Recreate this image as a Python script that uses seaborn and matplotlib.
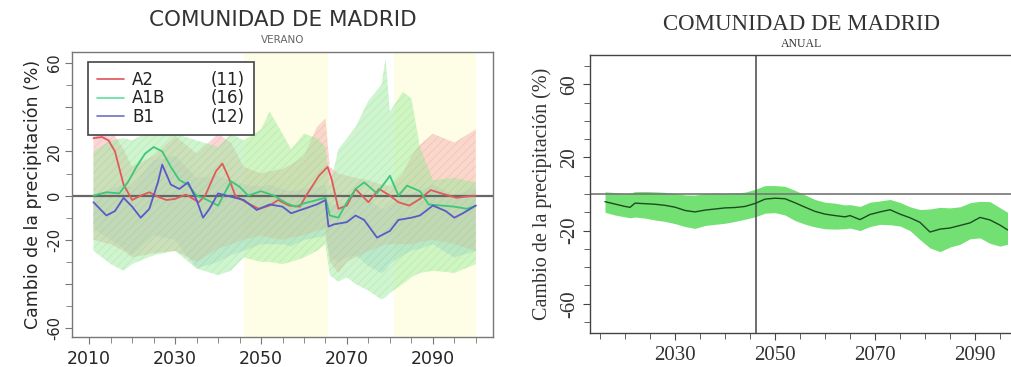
import numpy as np
import pandas as pd
import matplotlib
matplotlib.use("Agg")
import matplotlib.pyplot as plt
import seaborn as sns

sns.set_style("ticks")
plt.rcParams['font.family'] = ['DejaVu Sans']
plt.rcParams['hatch.linewidth'] = 0.6
plt.rcParams['axes.unicode_minus'] = False

# ---- left panel: summer (VERANO) ----
scenarios = ["A2", "A1B", "B1"]
n_models = [11, 16, 12]
colors = {"A2": "#e05a5a", "A1B": "#3cc878", "B1": "#5a5ac8"}
legend_colors = {"A2": "#e0505a", "A1B": "#5ee0a0", "B1": "#7070c8"}
band_colors = {"A2": "#f4a8a8", "A1B": "#98e898", "B1": "#b0cdf0"}

a2_years = [2011, 2013, 2014.5, 2016, 2018, 2020, 2022, 2024, 2026, 2028, 2030,
            2032.5, 2035.5, 2037, 2039.5, 2041, 2042.5, 2044, 2046.5, 2049.5,
            2052, 2054, 2056.5, 2059, 2061, 2063.5, 2065.5, 2066.5, 2068, 2070,
            2072, 2073.5, 2075, 2077.5, 2080, 2082, 2084.5, 2087, 2089.5, 2092,
            2095.5, 2097.5, 2100]
a2_vals = [26, 26.5, 25, 20, 5, -2, 0, 1.5, -0.5, -2, -1.5,
           0.5, -3, 0, 11, 14.5, 8, 0, -3, -6,
           -4.5, -2, -4.5, -5, 1.5, 9, 13, 7, -6, -4.5,
           3, 0, -3, 3, 0, -3, -4.5, -1.5, 2.5, 1,
           -1, -0.5, 0]

a1b_years = [2011, 2014, 2017, 2019, 2021, 2023, 2025, 2027, 2029, 2031, 2033,
             2035, 2037, 2040, 2043, 2045, 2047, 2050, 2053, 2056, 2058, 2060,
             2063, 2065, 2066, 2068, 2070, 2072, 2074, 2077, 2080, 2082, 2084,
             2087, 2089, 2092, 2095, 2098, 2100]
a1b_vals = [0, 1.5, 1, 6, 13, 19, 22, 20, 13, 7, 5,
            0, -1.5, -4.5, 6.5, 4, 0, 2, 0, -3.5, -5, -3.5,
            -2, -1, -9, -10, -3, 3, 6, 1, 9, 0, 4.5,
            2, -4, -4.5, -5, -6, -4.5]

b1_years = [2011, 2014, 2016, 2018, 2020, 2022, 2024, 2026, 2027, 2029, 2031,
            2033, 2035, 2036.5, 2038, 2040, 2042, 2044, 2046, 2049, 2052, 2055,
            2057, 2060, 2063, 2065, 2065.7, 2067, 2070, 2072, 2074, 2077, 2080,
            2082, 2085, 2087, 2090, 2093, 2095, 2097, 2100]
b1_vals = [-3, -9, -7, -1, -5, -10, -6, 6, 14, 5, 3,
           6, -2, -10, -6, 1, 0, -1, -2, -6.5, -4, -5,
           -8, -6, -4, -2, -14, -13, -12, -9, -11, -19, -16,
           -11, -10, -9, -4.5, -7, -10, -8, -4.5]

band_years = [2011, 2015, 2018, 2020, 2025, 2030, 2035, 2040, 2043, 2046, 2050,
              2052, 2055, 2057, 2060, 2063, 2065, 2066, 2068, 2070, 2072, 2075,
              2078, 2079, 2080, 2083, 2085, 2087, 2090, 2095, 2100]
a1b_hi = [20, 25, 26, 25, 30, 28, 25, 22, 28, 25, 30,
          38, 28, 21, 28, 26, 22, 4, 21, 26, 31, 43,
          50, 62, 38, 47, 44, 22, 7, 8, 6]
a1b_lo = [-25, -31, -34, -31, -27, -25, -33, -36, -34, -28, -30,
          -30, -31, -30, -28, -25, -22, -36, -39, -37, -40, -43,
          -47, -46, -44, -40, -37, -35, -34, -35, -31]
a2_hi = [28, 30, 21, 13, 18, 27, 19, 28, 24, 13, 10,
         11, 12, 14, 18, 31, 35, 13, 10, 9, 8, 7,
         5, 5, 4, 10, 18, 23, 28, 24, 30]
a2_lo = [-20, -22, -25, -28, -26, -25, -30, -24, -22, -20, -18,
         -19, -20, -19, -18, -16, -15, -30, -35, -30, -28, -25,
         -23, -22, -22, -22, -22, -21, -20, -22, -25]
b1_hi = [0, 3, 5, 4, 16, 18, 8, 9, 7, 5, 4,
         5, 3, 2, 3, 4, 5, -4, -4, -3, 0, -2,
         -6, -6, -4, 0, 1, 2, 5, 0, 4]
b1_lo = [-15, -20, -24, -27, -18, -20, -33, -30, -27, -25, -22,
         -22, -22, -23, -20, -19, -18, -28, -30, -28, -27, -32,
         -35, -34, -31, -27, -25, -24, -22, -28, -25]

period_start = [2046, 2081]
period_end = [2065.5, 2100]

# ---- right panel: annual (ANUAL) ----
ann_years = [2016, 2018, 2020, 2021, 2022, 2024, 2026, 2028, 2030, 2032, 2034,
             2036, 2038, 2040, 2042, 2044, 2046, 2048, 2050, 2052, 2054, 2056,
             2058, 2060, 2062, 2064, 2065, 2067, 2069, 2071, 2073, 2075, 2077,
             2079, 2081, 2083, 2085, 2087, 2089, 2091, 2093, 2095, 2096.5]
ann_mean = [-4.2, -5.5, -6.8, -7.3, -5.0, -5.3, -5.6, -6.2, -7.2, -9.0, -9.8,
            -8.8, -8.2, -7.6, -7.4, -6.8, -5.2, -2.8, -2.3, -2.6, -4.8, -7.2,
            -9.5, -11.0, -11.8, -12.5, -11.8, -14.0, -11.2, -9.8, -8.6, -11.0, -13.0,
            -15.5, -20.8, -19.2, -18.6, -17.2, -15.8, -12.8, -14.2, -17.0, -19.6]
ann_hi = [1.2, 0.8, 0.3, 0.5, 1.3, 1.4, 1.2, 0.9, 0.2, -0.5, -0.6,
          0.2, 0.5, 0.3, 0.6, 1.0, 2.5, 4.6, 4.6, 4.2, 2.0, -0.5,
          -3.0, -4.5, -5.0, -6.0, -5.8, -6.8, -4.5, -3.8, -3.0, -4.6, -7.0,
          -8.5, -8.2, -7.3, -7.6, -7.0, -4.8, -4.0, -4.2, -7.5, -10.0]
ann_lo = [-10.0, -11.5, -12.5, -13.0, -12.6, -13.2, -14.2, -15.0, -16.2, -17.8, -18.8,
          -17.2, -16.6, -16.0, -15.0, -13.8, -12.5, -10.5, -10.2, -11.5, -14.5, -16.5,
          -18.0, -19.0, -19.2, -19.0, -18.6, -20.0, -17.8, -16.6, -16.8, -17.5, -20.0,
          -25.0, -29.5, -31.5, -29.0, -27.5, -24.5, -24.0, -27.0, -28.5, -27.5]
ref_year = 2046.2

lines = pd.concat([
    pd.DataFrame({"year": a2_years, "cambio": a2_vals, "escenario": "A2"}),
    pd.DataFrame({"year": a1b_years, "cambio": a1b_vals, "escenario": "A1B"}),
    pd.DataFrame({"year": b1_years, "cambio": b1_vals, "escenario": "B1"}),
])
bands = pd.DataFrame({"year": band_years,
                      "A2_hi": a2_hi, "A2_lo": a2_lo,
                      "A1B_hi": a1b_hi, "A1B_lo": a1b_lo,
                      "B1_hi": b1_hi, "B1_lo": b1_lo})
anual = pd.DataFrame({"year": ann_years, "media": ann_mean,
                      "hi": ann_hi, "lo": ann_lo})

fig = plt.figure(figsize=(10.11, 3.67), dpi=100)
ax1 = fig.add_axes([72 / 1011, 30 / 367, 421 / 1011, 285 / 367])
ax2 = fig.add_axes([590 / 1011, 34 / 367, 423 / 1011, 278 / 367])

# left panel
for s, e in zip(period_start, period_end):
    ax1.axvspan(s, e, color="#fefee6", zorder=0, lw=0)
for sc in ["B1", "A2", "A1B"]:
    ax1.fill_between(bands["year"], bands[sc + "_lo"], bands[sc + "_hi"],
                     facecolor=band_colors[sc], alpha=0.45, hatch="////",
                     edgecolor=band_colors[sc], linewidth=0, zorder=1)
ax1.axhline(0, color="#666666", lw=1.6, zorder=2)
sns.lineplot(data=lines, x="year", y="cambio", hue="escenario",
             palette=colors, hue_order=scenarios, sort=False,
             lw=1.3, ax=ax1, legend=False, zorder=3)

ax1.set_xlim(2006, 2104)
ax1.set_ylim(-64, 65)
ax1.set_xticks([2010, 2030, 2050, 2070, 2090])
ax1.set_xticks(np.arange(2015, 2101, 5), minor=True)
ax1.set_yticks([-60, -40, -20, 0, 20, 40, 60])
ax1.set_yticklabels(["-60", "", "-20", "0", "20", "", "60"])
ax1.set_yticks(np.arange(-60, 61, 10), minor=True)
ax1.tick_params(axis="x", labelsize=12.5, length=5, color="#777777", pad=4)
ax1.tick_params(axis="y", labelsize=10.5, length=5, color="#777777",
                labelrotation=90, pad=2)
ax1.tick_params(which="minor", length=4, color="#777777")
for lab in ax1.get_yticklabels():
    lab.set_va("center")
ax1.set_xlabel("")
ax1.set_ylabel("Cambio de la precipitación (%)", fontsize=12.5, labelpad=4)
for sp in ax1.spines.values():
    sp.set_color("#777777")
    sp.set_linewidth(1)
ax1.text(0.5, 1.112, "COMUNIDAD DE MADRID", transform=ax1.transAxes,
         ha="center", va="center", fontsize=15.5, color="#333333")
ax1.text(0.5, 1.042, "VERANO", transform=ax1.transAxes,
         ha="center", va="center", fontsize=7.5, color="#666666")

handles = [plt.Line2D([], [], color=legend_colors[sc], lw=1.2) for sc in scenarios]
blanks = [plt.Line2D([], [], color="none") for _ in scenarios]
labels = scenarios + ["(%d)" % n for n in n_models]
leg = ax1.legend(handles + blanks, labels, ncol=2, loc="upper left",
                 bbox_to_anchor=(0.038, 0.965), borderaxespad=0,
                 fontsize=12, labelspacing=0.02, handlelength=1.6,
                 handletextpad=0.5, columnspacing=0.6, fancybox=False,
                 framealpha=1, borderpad=0.55)
leg.get_frame().set_edgecolor("#444444")
leg.get_frame().set_linewidth(1.2)
for t in leg.get_texts():
    t.set_color("#222222")

# right panel
serif = "Liberation Serif"
ax2.fill_between(anual["year"], anual["lo"], anual["hi"],
                 color="#72e072", lw=0, zorder=1)
ax2.axhline(0, color="#777777", lw=1.2, zorder=2)
ax2.axvline(ref_year, color="#555555", lw=1.2, zorder=2)
sns.lineplot(data=anual, x="year", y="media", color="#1f4a1f", lw=1.0,
             ax=ax2, zorder=3)
ax2.set_xlim(2013, 2097.6)
ax2.set_ylim(-76, 76)
ax2.set_xticks([2030, 2050, 2070, 2090])
ax2.set_xticks(np.arange(2015, 2096, 5), minor=True)
ax2.set_yticks([-60, -20, 20, 60])
ax2.set_yticks(np.arange(-70, 71, 10), minor=True)
ax2.tick_params(axis="x", labelsize=15, length=5, color="#444444", pad=4)
ax2.tick_params(axis="y", labelsize=15, length=5, color="#444444",
                labelrotation=90, pad=3)
ax2.tick_params(which="minor", length=4, color="#444444")
for lab in ax2.get_xticklabels() + ax2.get_yticklabels():
    lab.set_fontfamily(serif)
    lab.set_color("#333333")
for lab in ax2.get_yticklabels():
    lab.set_va("center")
ax2.set_xlabel("")
ax2.set_ylabel("Cambio de la precipitación (%)", fontsize=14.5,
               fontfamily=serif, color="#333333", labelpad=6)
for sp in ax2.spines.values():
    sp.set_color("#444444")
    sp.set_linewidth(1)
ax2.text(0.5, 1.108, "COMUNIDAD DE MADRID", transform=ax2.transAxes,
         ha="center", va="center", fontsize=16.5, fontfamily=serif,
         color="#333333")
ax2.text(0.5, 1.04, "ANUAL", transform=ax2.transAxes, ha="center",
         va="center", fontsize=8.5, fontfamily=serif, color="#333333")

fig.savefig("out.png", dpi=100)
